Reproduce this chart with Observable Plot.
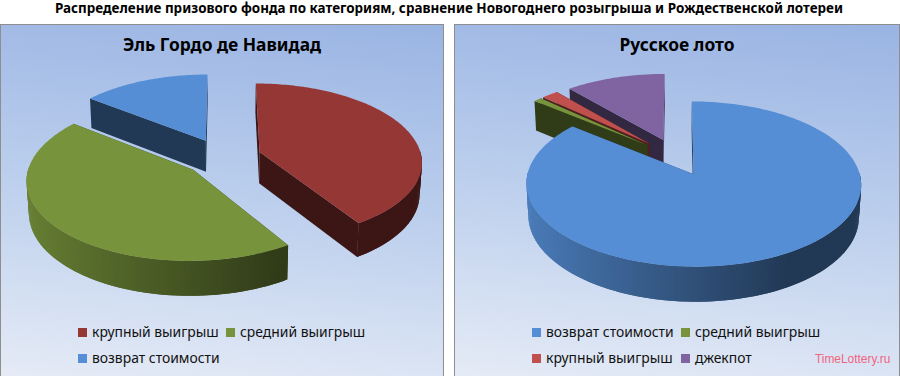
<!DOCTYPE html>
<html><head><meta charset="utf-8">
<script src="https://cdn.jsdelivr.net/npm/d3@7"></script>
<script src="https://cdn.jsdelivr.net/npm/@observablehq/plot@0.6"></script>
<style>
html,body{margin:0;padding:0;background:#fff;width:900px;height:376px;overflow:hidden}
#title{position:absolute;left:0;top:-1px;width:898px;height:24px;text-align:center;font:bold 13.45px "Noto Sans",sans-serif;line-height:19px;color:#000}
.panel{position:absolute;top:24px;height:352px;box-sizing:border-box;border:1px solid #8e8e8e;border-bottom:none;background:linear-gradient(186deg,#9ab4e3 0%,#bccfed 50%,#e5ebf6 100%);overflow:hidden}
.panel svg{position:absolute;left:0;top:0;background:transparent}
.ptitle{position:absolute;left:0;right:0;top:7px;text-align:center;font:bold 17.4px "Noto Sans",sans-serif;color:#000;z-index:2}
.item{position:absolute;font:13.9px "Noto Sans",sans-serif;color:#111;white-space:nowrap;line-height:20px}
.item i{position:absolute;left:-14px;top:6px;width:9px;height:9px}
#mark{position:absolute;left:815px;top:352px;font:11.9px "Liberation Sans",sans-serif;color:#f2647e;z-index:3}
</style></head><body>
<div id="title">Распределение призового фонда по категориям, сравнение Новогоднего розыгрыша и Рождественской лотереи</div>
<div id="mark">TimeLottery.ru</div>
<script>
const chartTitle = ["Эль Гордо де Навидад", "Русское лото"];
const gordoLabels = ["крупный выигрыш", "средний выигрыш", "возврат стоимости"];
const gordoValues = [41, 44.5, 14.5];
const gordoColors = ["#953735", "#77933c", "#558ed5"];
const lotoLabels = ["возврат стоимости", "средний выигрыш", "крупный выигрыш", "джекпот"];
const lotoValues = [85.9, 0.9, 1.9, 11.3];
const lotoColors = ["#558ed5", "#77933c", "#c0504d", "#8064a2"];

// 3D pie model
const R = 162, K = 0.478, P = 0.115, Q = 0.012, DEPTH = 31.9, EXPLODE = 0.24;
const rad = Math.PI / 180;

function shade(c, f) { const o = d3.rgb(c); return d3.rgb(o.r * f, o.g * f, o.b * f).formatHex(); }

function project(U, V, z) {
  const s = 1 / (1 - P * V + Q * z);
  return [R * U * s, (R * K * V + DEPTH * z) * s];
}

function buildPolys(values, colors) {
  const total = d3.sum(values);
  let acc = 0;
  const slices = values.map((v, i) => {
    const a0 = acc / total * 360; acc += v; const a1 = acc / total * 360;
    const mid = (a0 + a1) / 2 * rad;
    return { i, a0, a1, ox: EXPLODE * Math.sin(mid), oy: -EXPLODE * Math.cos(mid), color: colors[i] };
  }).sort((a, b) => a.oy - b.oy);
  const rows = [];
  let id = 0;
  const add = (pts, fill) => { const z = id++; pts.forEach(p => rows.push({ x: p[0], y: p[1], z, fill })); };
  for (const s of slices) {
    const rim = (a, z) => project(s.ox + Math.sin(a * rad), s.oy - Math.cos(a * rad), z);
    const apex = z => project(s.ox, s.oy, z);
    const faceCol = shade(s.color, 0.4);
    add([apex(0), rim(s.a0, 0), rim(s.a0, 1), apex(1)], faceCol);
    add([apex(0), rim(s.a1, 0), rim(s.a1, 1), apex(1)], faceCol);
    const n = Math.max(2, Math.ceil((s.a1 - s.a0) / 1));
    const angles = d3.range(n + 1).map(j => s.a0 + (s.a1 - s.a0) * j / n);
    const step = (s.a1 - s.a0) / n;
    for (let j = 0; j < n; j++) {
      const a = angles[j], b = Math.min(angles[j + 1] + step, s.a1);
      const mid = (angles[j] + angles[j + 1]) / 2 * rad;
      if (Math.cos(mid) > 0.02) continue; // back of the rim is hidden
      const f = Math.max(0.4, 0.88 - 0.32 * (Math.sin(mid) + 1));
      add([rim(a, 0), rim(b, 0), rim(b, 1), rim(a, 1)], shade(s.color, f));
    }
    add([apex(0), ...angles.map(a => rim(a, 0))], s.color);
  }
  return rows;
}

function chart(w, values, colors, dx) {
  const h = 300, cx = w / 2 + dx, cy = 131.6;
  return Plot.plot({
    width: w, height: h, margin: 0,
    x: { domain: [-cx, w - cx], range: [0, w], axis: null },
    y: { domain: [-cy, h - cy], range: [0, h], axis: null },
    color: { type: "identity" },
    marks: [
      Plot.line(buildPolys(values, colors), {
        x: "x", y: "y", z: "z", fill: "fill", curve: "linear-closed", stroke: null
      })
    ]
  });
}

function panel(left, width, title, labels, values, colors, legendPos, dx) {
  const p = document.createElement("div");
  p.className = "panel";
  p.style.left = left + "px"; p.style.width = width + "px";
  const t = document.createElement("div");
  t.className = "ptitle"; t.textContent = title; p.appendChild(t);
  p.appendChild(chart(width - 2, values, colors, dx));
  labels.forEach((l, i) => {
    const d = document.createElement("div");
    d.className = "item";
    d.style.left = legendPos[i][0] - left - 1 + "px";
    d.style.top = legendPos[i][1] - 24 - 1 + "px";
    d.textContent = l;
    const sw = document.createElement("i");
    sw.style.background = colors[i];
    d.appendChild(sw);
    p.appendChild(d);
  });
  document.body.appendChild(p);
}

panel(0, 444, chartTitle[0], gordoLabels, gordoValues, gordoColors,
  [[92, 322], [240, 322], [92, 348]], 0);
panel(454, 446, chartTitle[1], lotoLabels, lotoValues, lotoColors,
  [[546, 322], [695, 322], [546, 348], [695, 348]], -1);
</script>
</body></html>
